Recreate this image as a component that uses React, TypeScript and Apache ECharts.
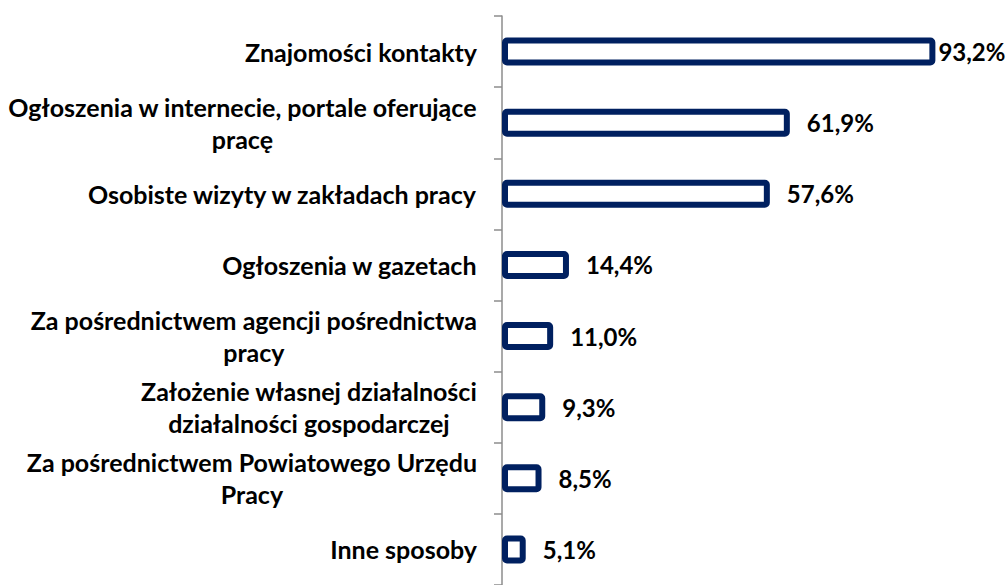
import React, { useEffect, useRef } from "react";
import * as echarts from "echarts";

const categories: string[] = [
  "Znajomości kontakty",
  "Ogłoszenia w internecie, portale oferujące\npracę",
  "Osobiste wizyty w zakładach pracy",
  "Ogłoszenia w gazetach",
  "Za pośrednictwem agencji pośrednictwa\npracy",
  "Założenie własnej działalności\ndziałalności gospodarczej",
  "Za pośrednictwem Powiatowego Urzędu\nPracy",
  "Inne sposoby",
];

const values: number[] = [93.2, 61.9, 57.6, 14.4, 11.0, 9.3, 8.5, 5.1];

const FONT = "Lato";

export default function App() {
  const ref = useRef<HTMLDivElement>(null);
  useEffect(() => {
    if (!ref.current) return;
    const chart = echarts.init(ref.current, undefined, { renderer: "svg" });
    chart.setOption({
      animation: false,
      backgroundColor: "#ffffff",
      grid: { left: 502, right: 40, top: 16, bottom: -4, containLabel: false },
      xAxis: { type: "value", min: 0, max: 100, show: false },
      yAxis: {
        type: "category",
        inverse: true,
        data: categories,
        axisLine: { show: true, lineStyle: { color: "#8c8c8c", width: 1.5 } },
        axisTick: { show: true, length: 8, lineStyle: { color: "#8c8c8c", width: 1.5 } },
        splitLine: { show: false },
        axisLabel: {
          margin: 25,
          formatter: (v: string) =>
            v
              .split("\n")
              .map((l) => `{c|${l}}`)
              .join("\n"),
          rich: {
            c: {
              align: "center",
              fontFamily: FONT,
              fontWeight: "bold",
              fontSize: 25,
              lineHeight: 32,
              color: "#000000",
            },
          },
        },
      },
      series: [
        {
          type: "bar",
          barWidth: 28,
          data: values.map((v, i) => ({
            value: v,
            label: { distance: i === 0 ? 3 : 17 },
          })),
          itemStyle: {
            color: "#ffffff",
            borderColor: "#002060",
            borderWidth: 6,
            borderRadius: 2,
          },
          label: {
            show: true,
            position: "right",
            formatter: (p: any) => p.value.toFixed(1).replace(".", ",") + "%",
            fontFamily: FONT,
            fontWeight: "bold",
            fontSize: 24,
            color: "#000000",
          },
        },
      ],
    });
    return () => chart.dispose();
  }, []);
  return (
    <div
      ref={ref}
      style={{ position: "absolute", left: 0, top: 0, width: 1007, height: 585 }}
    />
  );
}
